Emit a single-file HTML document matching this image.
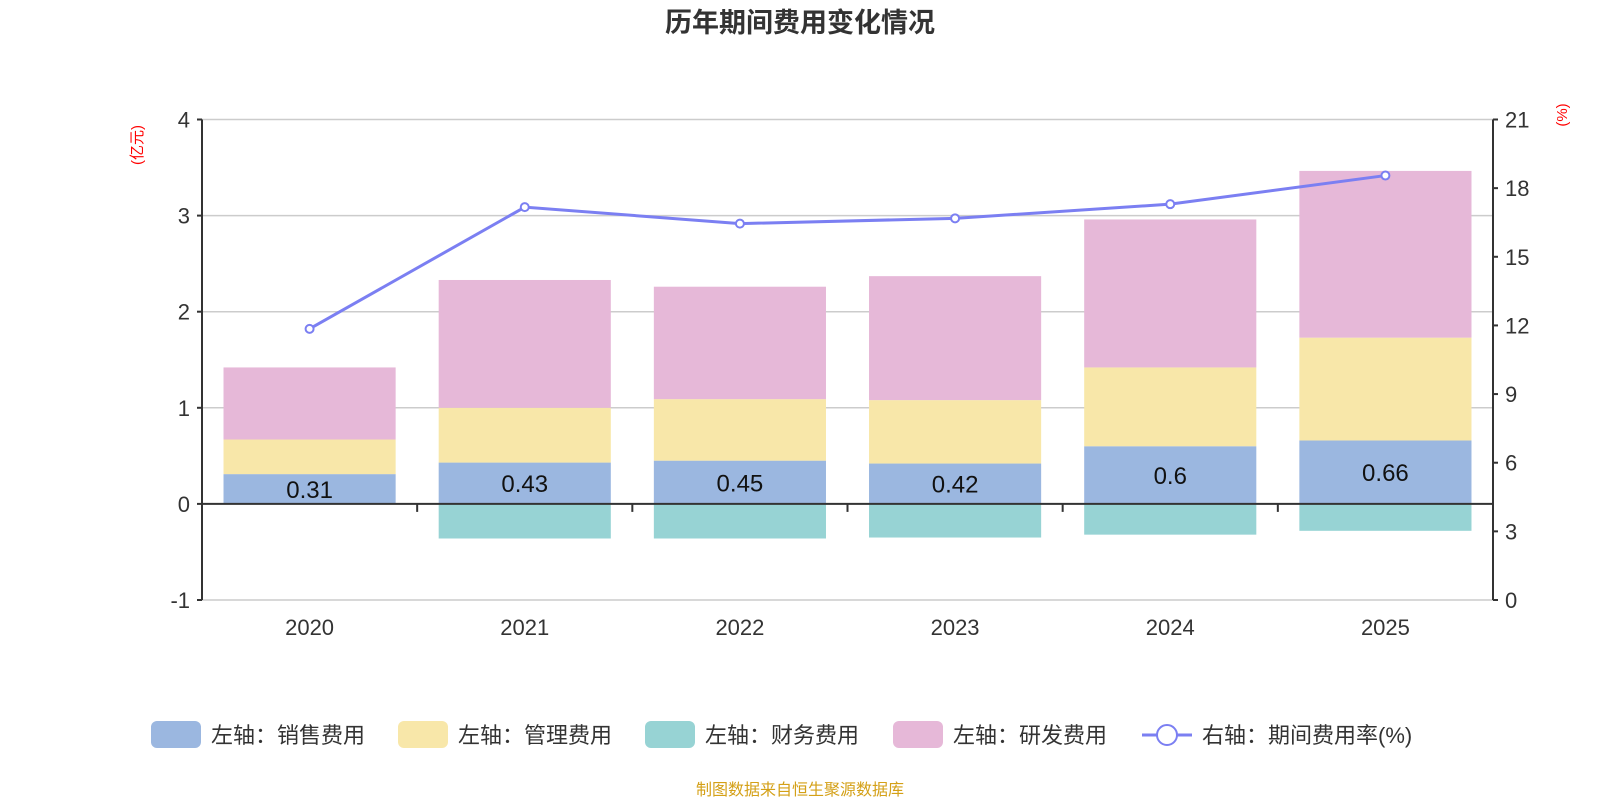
<!DOCTYPE html>
<html><head><meta charset="utf-8"><style>
body{margin:0;background:#fff;}
svg{display:block;font-family:"Liberation Sans","Noto Sans CJK SC",sans-serif;}
</style></head><body>
<svg id="chart" width="1600" height="800">
<text x="800" y="32" text-anchor="middle" font-size="27" font-weight="bold" fill="#333">历年期间费用变化情况</text>
<text transform="translate(142,145) rotate(-90)" text-anchor="middle" font-size="15" fill="#f00">(亿元)</text>
<text transform="translate(1567,115) rotate(-90)" text-anchor="middle" font-size="15" fill="#f00">(%)</text>
<g id="grid"></g><g id="bars"></g><g id="axes"></g><g id="line"></g><g id="legend"></g>
<text x="800" y="795" text-anchor="middle" font-size="16" fill="#d4a017">制图数据来自恒生聚源数据库</text>
</svg>
<script>
const years=["2020","2021","2022","2023","2024","2025"];
const sales=[0.31,0.43,0.45,0.42,0.6,0.66];
const mgmt=[0.36,0.57,0.64,0.66,0.82,1.07];
const finance=[0,-0.36,-0.36,-0.35,-0.32,-0.28];
const rnd=[0.75,1.33,1.17,1.29,1.54,1.735];
const rate=[11.85,17.17,16.45,16.68,17.3,18.55];
const leftTicks=[-1,0,1,2,3,4];
const rightTicks=[0,3,6,9,12,15,18,21];
const NS="http://www.w3.org/2000/svg";
const X0=202,X1=1493,Y0=119.5,Y1=600;
const band=(X1-X0)/years.length;
const yL=v=>Y1-(v+1)/5*(Y1-Y0);
const yR=v=>Y1-v/21*(Y1-Y0);
const xC=i=>X0+band*(i+0.5);
function mk(t,a,p){const e=document.createElementNS(NS,t);for(const k in a)e.setAttribute(k,a[k]);p.appendChild(e);return e;}
const grid=document.getElementById('grid'),bars=document.getElementById('bars'),axes=document.getElementById('axes'),line=document.getElementById('line'),legend=document.getElementById('legend');
leftTicks.forEach(v=>{
 const g=mk('line',{x1:X0,x2:X1,y1:yL(v),y2:yL(v),stroke:'#ccc','stroke-width':1.5},grid);
 
 
 mk('line',{x1:X0-5,x2:X0,y1:yL(v),y2:yL(v),stroke:'#333','stroke-width':2},axes);
 const t=mk('text',{x:X0-12,y:yL(v)+8,'text-anchor':'end','font-size':22,fill:'#333'},axes);t.textContent=v;
 
 
});
rightTicks.forEach(v=>{
 mk('line',{x1:X1,x2:X1+5,y1:yR(v),y2:yR(v),stroke:'#333','stroke-width':2},axes);
 const t=mk('text',{x:X1+12,y:yR(v)+8,'font-size':22,fill:'#333'},axes);t.textContent=v;
 
 
});
const bw=band*0.8;
years.forEach((y,i)=>{
 const x=xC(i)-bw/2;
 const segs=[[0,sales[i],'#9bb7e0','bar-sales'],[sales[i],sales[i]+mgmt[i],'#f8e7a9','bar-mgmt'],[sales[i]+mgmt[i],sales[i]+mgmt[i]+rnd[i],'#e6b8d8','bar-rnd'],[finance[i],0,'#97d3d4','bar-finance']];
 segs.forEach(s=>{
  const top=yL(Math.max(s[0],s[1])),bot=yL(Math.min(s[0],s[1]));
  if(bot-top<=0)return;
  const r=mk('rect',{x:x,y:top,width:bw,height:bot-top,fill:s[2]},bars);
  
  
 });
 const lb=mk('text',{x:xC(i),y:(yL(0)+yL(sales[i]))/2+9,'text-anchor':'middle','font-size':24,fill:'#111'},bars);lb.textContent=sales[i];
 
 
 const xl=mk('text',{x:xC(i),y:Y1+35,'text-anchor':'middle','font-size':22,fill:'#333'},axes);xl.textContent=y;
 
 
 if(i>0)mk('line',{x1:X0+band*i,x2:X0+band*i,y1:yL(0),y2:yL(0)+8,stroke:'#333','stroke-width':2},axes);
});
mk('line',{x1:X0,x2:X0,y1:Y0,y2:Y1,stroke:'#333','stroke-width':2},axes);
mk('line',{x1:X1,x2:X1,y1:Y0,y2:Y1,stroke:'#333','stroke-width':2},axes);
mk('line',{x1:X0,x2:X1,y1:yL(0),y2:yL(0),stroke:'#333','stroke-width':2},axes);
const pl=mk('polyline',{points:rate.map((v,i)=>xC(i)+','+yR(v)).join(' '),fill:'none',stroke:'#7b7ff2','stroke-width':3},line);


rate.forEach((v,i)=>{const c=mk('circle',{cx:xC(i),cy:yR(v),r:4,fill:'#fff',stroke:'#7b7ff2','stroke-width':2},line);
 
 });
const items=[['#9bb7e0','左轴：销售费用',151],['#f8e7a9','左轴：管理费用',398],['#97d3d4','左轴：财务费用',645],['#e6b8d8','左轴：研发费用',893]];
items.forEach(it=>{
 const g=mk('g',{},legend);
 
 
 mk('rect',{x:it[2],y:721,width:50,height:27,rx:6,fill:it[0]},g);
 const t=mk('text',{x:it[2]+60,y:743,'font-size':22,fill:'#333'},g);t.textContent=it[1];
});
const g=mk('g',{},legend);


mk('line',{x1:1142,x2:1192,y1:735,y2:735,stroke:'#7b7ff2','stroke-width':3},g);
mk('circle',{cx:1167,cy:735,r:10,fill:'#fff',stroke:'#7b7ff2','stroke-width':2},g);
const t=mk('text',{x:1202,y:743,'font-size':22,fill:'#333'},g);t.textContent='右轴：期间费用率(%)';
</script>
</body></html>
